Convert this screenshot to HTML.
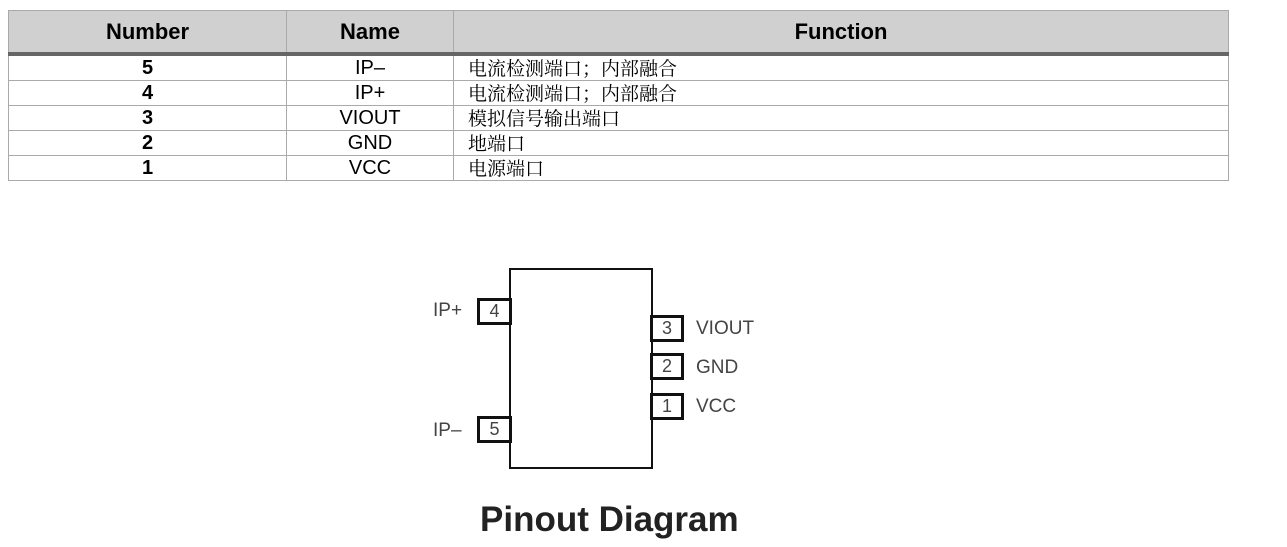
<!DOCTYPE html>
<html><head><meta charset="utf-8"><style>
body{margin:0;width:1287px;height:547px;background:#fff;position:relative;overflow:hidden;font-family:"Liberation Sans","Noto Sans CJK SC",sans-serif}
.a{position:absolute}
table{position:absolute;left:8px;top:10px;border-collapse:collapse;width:1221px;table-layout:fixed}
td{border:1px solid #aaa;padding:0;font-size:20px;height:24px;line-height:24px;overflow:hidden;white-space:nowrap}
th{background:#d0d0d0;border:1px solid #aaa;border-bottom:4px solid #666;height:39px;font-size:22px}
.n{text-align:center;font-weight:bold}.c{text-align:center}.f{padding-left:14px;font-family:"Noto Serif CJK SC","Noto Sans CJK SC",serif;font-size:19px}
.pin{position:absolute;border:3px solid #111;box-sizing:border-box;background:#fff;font-size:18px;color:#444;text-align:center;line-height:20px}
.lb{position:absolute;font-size:19px;color:#444}
</style></head><body>
<table>
<colgroup><col style="width:278px"><col style="width:167px"><col></colgroup>
<tr><th>Number</th><th>Name</th><th>Function</th></tr>
<tr><td class="n">5</td><td class="c">IP–</td><td class="f">电流检测端口；内部融合</td></tr>
<tr><td class="n">4</td><td class="c">IP+</td><td class="f">电流检测端口；内部融合</td></tr>
<tr><td class="n">3</td><td class="c">VIOUT</td><td class="f">模拟信号输出端口</td></tr>
<tr><td class="n">2</td><td class="c">GND</td><td class="f">地端口</td></tr>
<tr><td class="n">1</td><td class="c">VCC</td><td class="f">电源端口</td></tr>
</table>
<div class="a" style="left:509px;top:268px;width:144px;height:201px;border:2px solid #111;box-sizing:border-box"></div>
<div class="pin" style="left:477px;top:298px;width:35px;height:27px">4</div>
<div class="pin" style="left:477px;top:416px;width:35px;height:27px">5</div>
<div class="pin" style="left:650px;top:315px;width:34px;height:27px">3</div>
<div class="pin" style="left:650px;top:353px;width:34px;height:27px">2</div>
<div class="pin" style="left:650px;top:393px;width:34px;height:27px">1</div>
<div class="lb" style="left:433px;top:300px">IP+</div>
<div class="lb" style="left:433px;top:420px">IP–</div>
<div class="lb" style="left:696px;top:318px">VIOUT</div>
<div class="lb" style="left:696px;top:357px">GND</div>
<div class="lb" style="left:696px;top:396px">VCC</div>
<div class="a" style="left:480px;top:500px;font-size:35px;font-weight:bold;color:#222">Pinout Diagram</div>
</body></html>
